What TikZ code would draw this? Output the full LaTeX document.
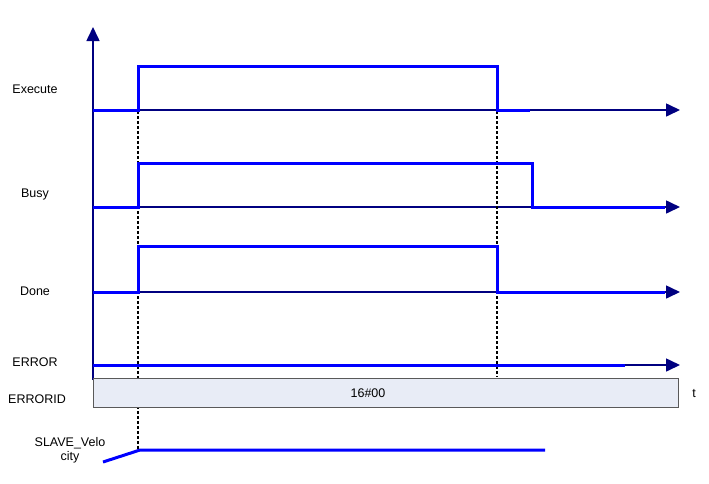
\documentclass[tikz,border=0pt]{standalone}
\usepackage{fontspec}
\setmainfont{Liberation Sans}
\usetikzlibrary{arrows.meta}
\definecolor{idfill}{RGB}{232,236,246}
\begin{document}
\begin{tikzpicture}[x=1pt,y=-1pt,
  axis/.style={draw=blue!50!black,line width=1.6pt,-{Triangle[length=14pt,width=13pt]}},
  sig/.style={draw=blue,line width=3pt},
  lbl/.style={font=\fontsize{12.5}{14}\selectfont}]
\useasboundingbox (0,0) rectangle (709,483);
% axes
\coordinate (o) at (93,380);
\coordinate (top) at (93,27);
\draw[axis] (o) -- (top);
\foreach \y/\n in {110/ex,207/bu,292/do,365/er}{
  \coordinate (\n0) at (93,\y);
  \coordinate (\n1) at (680,\y);
  \draw[axis] (\n0) -- (\n1);
}
% dashed markers
\coordinate (d1a) at (138,66);
\coordinate (d1b) at (138,450);
\coordinate (d2a) at (497,66);
\coordinate (d2b) at (497,377);
\draw[densely dashed,line width=1.1pt] (d1a) -- (d1b);
\draw[densely dashed,line width=1.1pt] (d2a) -- (d2b);
% signals
\draw[sig] (ex0) -- (138,110) -- (138,66) -- (497,66) -- (497,110) -- (530,110);
\draw[sig] (bu0) -- (138,207) -- (138,163) -- (532,163) -- (532,207) -- (665,207);
\draw[sig] (do0) -- (138,292) -- (138,246) -- (497,246) -- (497,292) -- (665,292);
\draw[sig] (er0) -- (625,365);
% ERRORID box
\node[draw=gray!70!black,fill=idfill,minimum width=585pt,minimum height=29pt,
  inner sep=0pt,anchor=north west] (eid) at (93,378) {};
\node[lbl] (code) at (368,393) {16\#00};
\node[lbl] (t) at (694,393) {t};
% velocity
\coordinate (v0) at (103,462);
\coordinate (v1) at (140,450);
\coordinate (v2) at (545,450);
\draw[sig] (v0) -- (v1) -- (v2);
% labels
\node[lbl] (lex) at (35,89) {Execute};
\node[lbl] (lbu) at (35,194) {Busy};
\node[lbl] (ldo) at (35,291) {Done};
\node[lbl] (ler) at (35,362) {ERROR};
\node[lbl] (lid) at (37,399) {ERRORID};
\node[lbl,align=center] (lve) at (70,450) {SLAVE\_Velo\\city};
\end{tikzpicture}
\end{document}
